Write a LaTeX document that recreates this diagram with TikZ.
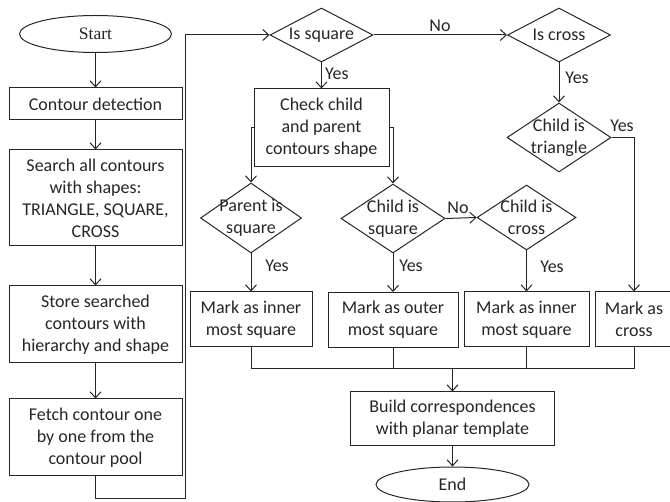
\documentclass[tikz,border=0pt]{standalone}
\usepackage{fontspec}
\setmainfont{Carlito}
\newfontfamily\serifstart{Liberation Serif}
\usetikzlibrary{shapes.geometric,arrows.meta}
\begin{document}
\begin{tikzpicture}[x=1pt,y=-1pt,
  every node/.style={text=black!85},
  >={Straight Barb[length=6pt,width=11pt]},
  line/.style={draw=black!85,line width=1pt},
  box/.style={draw=black!85,line width=1pt,rectangle,inner sep=0pt,align=center,font=\fontsize{18}{22}\selectfont},
  dia/.style={draw=black!85,line width=1pt,diamond,inner sep=0pt},
  oval/.style={draw=black!85,line width=1pt,ellipse,inner sep=0pt},
  txt/.style={align=center,inner sep=0pt,font=\fontsize{18}{22}\selectfont},
  lbl/.style={inner sep=0pt,font=\fontsize{18}{22}\selectfont}]
\useasboundingbox (0,0) rectangle (670,502);
% left column
\node[oval,minimum width=152pt,minimum height=37pt,font=\serifstart\fontsize{17.5}{20}\selectfont] (start) at (95.5,34) {Start};
\node[box,minimum width=173pt,minimum height=32pt] (cd) at (95.5,104) {Contour detection};
\node[box,minimum width=173pt,minimum height=96pt] (sa) at (95.5,198) {Search all contours\\with shapes:\\TRIANGLE, SQUARE,\\CROSS};
\node[box,minimum width=173pt,minimum height=77pt] (st) at (95.5,324.5) {Store searched\\contours with\\hierarchy and shape};
\node[box,minimum width=173pt,minimum height=77pt] (fe) at (95.5,437.5) {Fetch contour one\\by one from the\\contour pool};
\coordinate (lp1) at (185,499);
% decisions
\node[dia,minimum width=103pt,minimum height=54pt] (isq) at (321.5,35) {};
\node[txt] (isqt) at (isq) {Is square};
\node[dia,minimum width=103pt,minimum height=54pt] (icr) at (559,35) {};
\node[txt] (icrt) at (icr) {Is cross};
\node[box,minimum width=135pt,minimum height=78pt] (ck) at (321.5,128) {Check child\\and parent\\contours shape};
\node[dia,minimum width=101pt,minimum height=70pt] (ps) at (251,218) {};
\node[txt] (pst) at (ps) {Parent is\\square};
\node[dia,minimum width=104pt,minimum height=69pt] (cs) at (393,218.5) {};
\node[txt] (cst) at (cs) {Child is\\square};
\node[dia,minimum width=99pt,minimum height=65pt] (cc) at (526.5,217.5) {};
\node[txt] (cct) at (cc) {Child is\\cross};
\node[dia,minimum width=104pt,minimum height=69pt] (ct) at (559,137.5) {};
\node[txt] (ctt) at (ct) {Child is\\triangle};
% marks
\node[box,minimum width=122pt,minimum height=55pt] (m1) at (251,319.5) {Mark as inner\\most square};
\node[box,minimum width=130pt,minimum height=55pt] (m2) at (393,320) {Mark as outer\\most square};
\node[box,minimum width=125pt,minimum height=55pt] (m3) at (526.5,319.5) {Mark as inner\\most square};
\node[box,minimum width=78pt,minimum height=55pt] (m4) at (634,319.5) {Mark as\\cross};
\coordinate (mL) at (251,369);
\coordinate (mR) at (634,369);
\node[box,minimum width=204pt,minimum height=54pt] (bc) at (452.5,419) {Build correspondences\\with planar template};
\node[oval,minimum width=153pt,minimum height=35pt,font=\fontsize{18}{22}\selectfont] (end) at (452.5,484.5) {End};
% labels
\node[lbl] (l1) at (440,26) {No};
\node[lbl,anchor=west] (l2) at (325,74) {Yes};
\node[lbl] (l3) at (577,78) {Yes};
\node[lbl] (l4) at (622,126) {Yes};
\node[lbl] (l5) at (458,208) {No};
\node[lbl] (l6) at (277,266) {Yes};
\node[lbl] (l7) at (411,266) {Yes};
\node[lbl] (l8) at (552,267) {Yes};
% connectors
\draw[line,->] (start) -- (cd);
\draw[line,->] (cd) -- (sa);
\draw[line,->] (sa) -- (st);
\draw[line,->] (st) -- (fe);
\draw[line,->] (fe.south) |- (lp1) |- (isq.west);
\draw[line,->] (isq.east) -- (icr.west);
\draw[line,->] (isq.south) -- (ck.north);
\draw[line,->] (ck.west) -| (ps.north);
\draw[line,->] (ck.east) -| (cs.north);
\draw[line,->] (cs.east) -- (cc.west);
\draw[line,->] (icr.south) -- (ct.north);
\draw[line,->] (ct.east) -| (m4.north);
\draw[line,->] (ps.south) -- (m1.north);
\draw[line,->] (cs.south) -- (m2.north);
\draw[line,->] (cc.south) -- (m3.north);
\draw[line] (m1.south) -- (mL) -- (mR) -- (m4.south);
\draw[line] (m2.south) -- (m2.south |- mL);
\draw[line] (m3.south) -- (m3.south |- mL);
\draw[line,->] (bc.north |- mL) -- (bc.north);
\draw[line,->] (bc.south) -- (end.north);
\end{tikzpicture}
\end{document}
